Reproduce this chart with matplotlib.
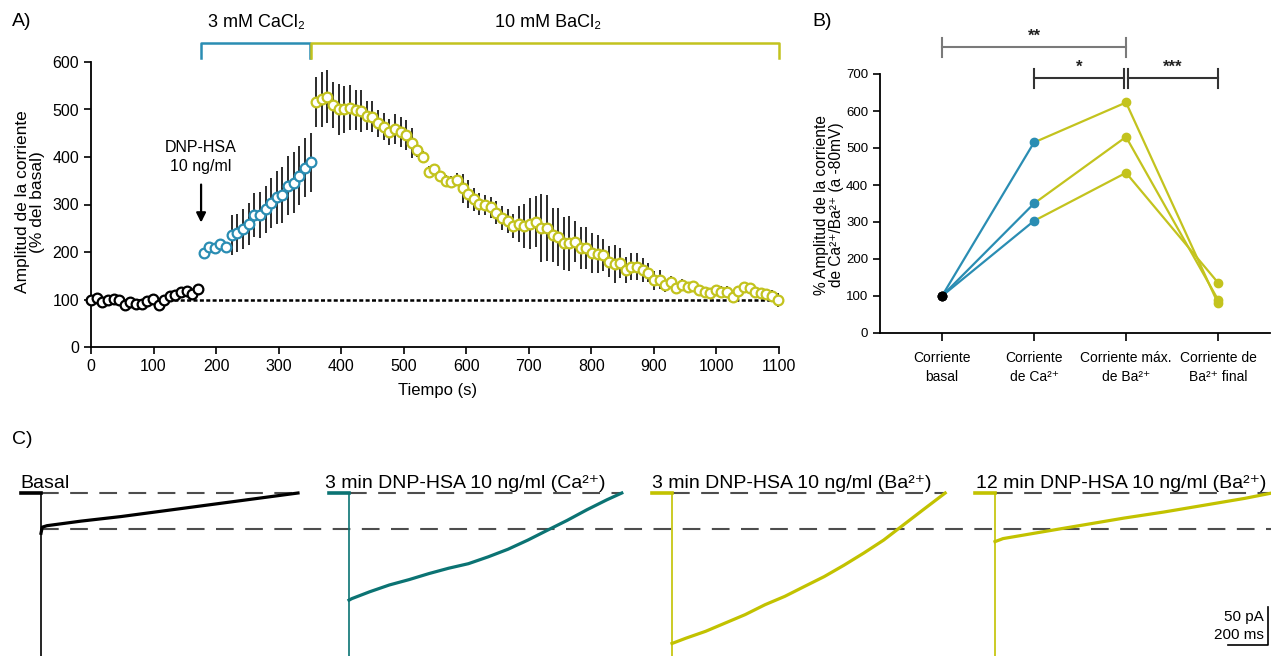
import numpy as np
import matplotlib.pyplot as plt

plt.rcParams['font.family'] = ['Liberation Sans', 'DejaVu Sans']
NARROW = ['Liberation Sans Narrow', 'Liberation Sans', 'DejaVu Sans']

BLUE = '#2a8db3'
YELLOW = '#c3c31e'
TEAL = '#0b7373'
YELLOW_TRACE = '#c2c200'

# --- A) amplitude over time (% of basal), one sweep every 9 s ---
t_step = 9
basal_vals = [100, 104, 95, 98, 102, 98, 88, 95, 90, 91,
              97, 101, 88, 100, 107, 109, 116, 118, 111, 123]
basal_err = [3, 3, 3, 3, 3, 3, 3, 3, 3, 3,
             3, 3, 4, 4, 4, 5, 5, 5, 6, 6]
ca_vals = [197, 211, 208, 216, 211, 236, 241, 249, 259, 278,
           278, 290, 303, 315, 320, 340, 346, 361, 377, 389]
ca_err = [4, 4, 4, 6, 10, 42, 40, 42, 44, 46,
          48, 50, 52, 55, 58, 62, 64, 62, 62, 62]
ba_vals = [516, 522, 527, 509, 500, 500, 504, 499, 497, 487,
           485, 471, 464, 453, 459, 453, 446, 429, 415, 401,
           369, 375, 359, 350, 348, 352, 334, 322, 311, 301,
           299, 294, 283, 271, 266, 255, 259, 255, 260, 264,
           250, 250, 236, 232, 218, 218, 222, 208, 208, 197,
           196, 194, 180, 174, 177, 162, 169, 169, 162, 156,
           141, 142, 131, 137, 124, 131, 127, 128, 120, 116,
           114, 120, 116, 116, 106, 118, 126, 124, 116, 114,
           112, 107, 99]
ba_err = [53, 58, 56, 49, 53, 50, 48, 43, 44,
          30, 33, 28, 28, 28, 32, 32, 32,
          31, 15, 12, 12, 10, 10, 12, 12, 14,
          30, 30,
          24, 24, 22, 22, 24, 25, 25, 25,
          37, 47, 53, 53, 72, 69, 56, 61, 56, 58, 44, 44, 44, 42, 40, 33, 33, 40, 32,
          28, 28, 28, 25, 20, 20, 20,
          15, 12, 12, 12, 10, 10, 10, 10, 10, 10, 12, 12, 12, 10, 10, 10, 10, 10, 10, 12, 15]

n_b, n_c = len(basal_vals), len(ca_vals)
t_all = np.arange(n_b + n_c + len(ba_vals)) * t_step
t_basal = t_all[:n_b]
t_ca = t_all[n_b:n_b + n_c]
t_ba = t_all[n_b + n_c:]

# --- B) paired cells ---
b_labels = ['Corriente\nbasal', 'Corriente\nde Ca²⁺', 'Corriente máx.\nde Ba²⁺', 'Corriente de\nBa²⁺ final']
basal_pct = [100, 100, 100]
ca_pct = [515, 350, 303]
ba_max_pct = [623, 530, 433]
ba_final_pct = [80, 90, 136]

# --- C) example currents (time in ms from the step, current in pA) ---
trace_names = ['Basal', '3 min DNP-HSA 10 ng/ml (Ca²⁺)',
               '3 min DNP-HSA 10 ng/ml (Ba²⁺)', '12 min DNP-HSA 10 ng/ml (Ba²⁺)']
basal_t = [0, 6, 30, 200, 400, 600, 800, 1000, 1285]
basal_i = [-53, -45, -43, -37, -31, -24, -17, -10, 0]
ca_t = [0, 14, 103, 202, 300, 400, 498, 597, 696, 795, 894, 992, 1091, 1190, 1289, 1364]
ca_i = [-141, -139, -130, -121, -114, -106, -99, -93, -84, -74, -62, -49, -36, -22, -9, 0]
ba3_t = [0, 10, 70, 168, 267, 366, 465, 564, 662, 761, 860, 959, 1058, 1157, 1256, 1366]
ba3_i = [-198, -197, -191, -182, -171, -160, -147, -136, -123, -110, -95, -79, -62, -42, -22, 0]
ba12_t = [0, 40, 240, 443, 645, 845, 1048, 1250, 1385]
ba12_i = [-64, -60, -51, -42, -33, -25, -16, -7, 0]
basal_level = -47

fig = plt.figure(figsize=(12.71, 6.56), dpi=100)
W, H = 1271, 656


def fx(px):
    return px / W


def fy(py):
    return 1 - py / H


# ================= A =================
axA = fig.add_axes([fx(91), fy(347), fx(688), 285 / H])
axA.axhline(100, color='black', lw=1.8, dashes=(1.6, 0.95), zorder=1)
for tt, vv, ee, col in [(t_basal, basal_vals, basal_err, 'black'),
                        (t_ca, ca_vals, ca_err, BLUE),
                        (t_ba, ba_vals, ba_err, YELLOW)]:
    axA.errorbar(tt, vv, yerr=ee, fmt='none', ecolor='#1a1a1a', elinewidth=1.3,
                 capsize=0, zorder=2, clip_on=False)
    axA.plot(tt, vv, 'o', ms=7, mfc='white', mec=col, mew=1.6, zorder=3, clip_on=False)

axA.set_xlim(0, 1100)
axA.set_ylim(0, 600)
axA.set_xticks(np.arange(0, 1101, 100))
axA.set_yticks(np.arange(0, 601, 100))
axA.tick_params(labelsize=11.5, length=5, width=1.2, direction='out')
for s in ['top', 'right']:
    axA.spines[s].set_visible(False)
for s in ['left', 'bottom']:
    axA.spines[s].set_linewidth(1.3)
axA.set_xlabel('Tiempo (s)', fontsize=12)
axA.xaxis.set_label_coords(0.503, -0.125)
fig.text(fx(30), fy(202), 'Amplitud de la corriente\n(% del basal)', rotation=90,
         ha='center', va='center', fontsize=12.5, linespacing=1.05)

# treatment brackets
axA.plot([176, 176, 350, 350], [608, 640, 640, 608], color=BLUE, lw=1.8, clip_on=False)
axA.plot([352, 352, 1100, 1100], [608, 640, 640, 608], color=YELLOW, lw=1.8, clip_on=False)
axA.text(265, 684, '3 mM CaCl₂', ha='center', va='center', fontsize=13)
axA.text(731, 684, '10 mM BaCl₂', ha='center', va='center', fontsize=13)

# antigen application
axA.text(176, 400, 'DNP-HSA\n10 ng/ml', ha='center', va='center', fontsize=11.5,
         linespacing=1.25)
axA.annotate('', xy=(176, 262), xytext=(176, 342),
             arrowprops=dict(arrowstyle='-|>', color='black', lw=1.6,
                             mutation_scale=14, shrinkA=0, shrinkB=0))
fig.text(fx(12), fy(22), 'A)', fontsize=14, va='center')

# ================= B =================
axB = fig.add_axes([fx(880), fy(333), fx(390), 259 / H])
x_cat = np.arange(len(b_labels))
for k in range(len(ca_pct)):
    axB.plot(x_cat[:2], [basal_pct[k], ca_pct[k]], color=BLUE, lw=1.6, zorder=2)
    axB.plot(x_cat[1:], [ca_pct[k], ba_max_pct[k], ba_final_pct[k]], color=YELLOW,
             lw=1.6, zorder=2)
    axB.plot(x_cat[0], basal_pct[k], 'o', color='black', ms=6, zorder=3)
    axB.plot(x_cat[1], ca_pct[k], 'o', color=BLUE, ms=6, zorder=3)
    axB.plot(x_cat[2:], [ba_max_pct[k], ba_final_pct[k]], 'o', color=YELLOW, ms=6, zorder=3)

axB.set_xlim(-0.674, 3.565)
axB.set_ylim(0, 700)
axB.set_yticks(np.arange(0, 701, 100))
axB.set_xticks(x_cat)
axB.set_xticklabels(b_labels, family=NARROW, fontsize=10, linespacing=1.45)
axB.tick_params(axis='y', labelsize=9.5, length=5, width=1.2)
axB.tick_params(axis='x', length=6, width=1.2, pad=7)
for s in ['top', 'right']:
    axB.spines[s].set_visible(False)
for s in ['left', 'bottom']:
    axB.spines[s].set_linewidth(1.3)
fig.text(fx(829), fy(205), '% Amplitud de la corriente\nde Ca²⁺/Ba²⁺ (a -80mV)',
         rotation=90, ha='center', va='center', fontsize=11.2, linespacing=1.05)


def sig_bar(x0, x1, y, label, color):
    axB.plot([x0, x1], [y, y], color=color, lw=1.5, clip_on=False)
    for xe in (x0, x1):
        axB.plot([xe, xe], [y - 27, y + 24], color=color, lw=1.5, clip_on=False)
    axB.text((x0 + x1) / 2, y + 10, label, ha='center', va='bottom', fontsize=12,
             fontweight='bold', color='#222222')


sig_bar(0, 2, 773, '**', '#7a7a7a')
sig_bar(1, 1.975, 689, '*', '#333333')
sig_bar(2.025, 3, 689, '***', '#333333')
fig.text(fx(812), fy(22), 'B)', fontsize=14, va='center')

# ================= C =================
ms_per_px = 5.0
pa_per_px = 50 / 38
axC = fig.add_axes([0, 0, 1, fy(465)])
axC.set_xlim(0, W * ms_per_px)
axC.set_ylim(-(H - 493) * pa_per_px, (493 - 465) * pa_per_px)
axC.axis('off')

onsets = [41, 349, 672, 995]
label_x = [20, 325, 652, 976]
traces = [(basal_t, basal_i, 'black'), (ca_t, ca_i, TEAL),
          (ba3_t, ba3_i, YELLOW_TRACE), (ba12_t, ba12_i, YELLOW_TRACE)]
dash_kw = dict(color='#4d4d4d', lw=1.5, dashes=(8.5, 5.5), zorder=1)
for (tt, ii, col), px0, lx, name in zip(traces, onsets, label_x, trace_names):
    x0 = px0 * ms_per_px
    axC.plot([x0 - 100, x0], [0, 0], color=col, lw=2.6, zorder=3)
    axC.plot([x0, x0], [0, -400], color=col, lw=1.2, zorder=3)
    axC.plot(x0 + np.array(tt), ii, color=col, lw=2.3, zorder=3)
    axC.plot([x0, x0 + tt[-1]], [0, 0], **dash_kw)
    fig.text(fx(lx), fy(488), name, fontsize=14, va='baseline')
axC.plot([onsets[0] * ms_per_px, W * ms_per_px], [basal_level, basal_level], **dash_kw)

# scale bar
sb_x, sb_y = 6340, -200
axC.plot([sb_x - 200, sb_x, sb_x], [sb_y, sb_y, sb_y + 50], color='black', lw=1.2,
         clip_on=False)
axC.text(sb_x - 20, sb_y + 37, '50 pA', ha='right', va='center', fontsize=11)
axC.text(sb_x - 20, sb_y + 13, '200 ms', ha='right', va='center', fontsize=11)
fig.text(fx(12), fy(440), 'C)', fontsize=14, va='center')

fig.savefig('out.png', dpi=100)
